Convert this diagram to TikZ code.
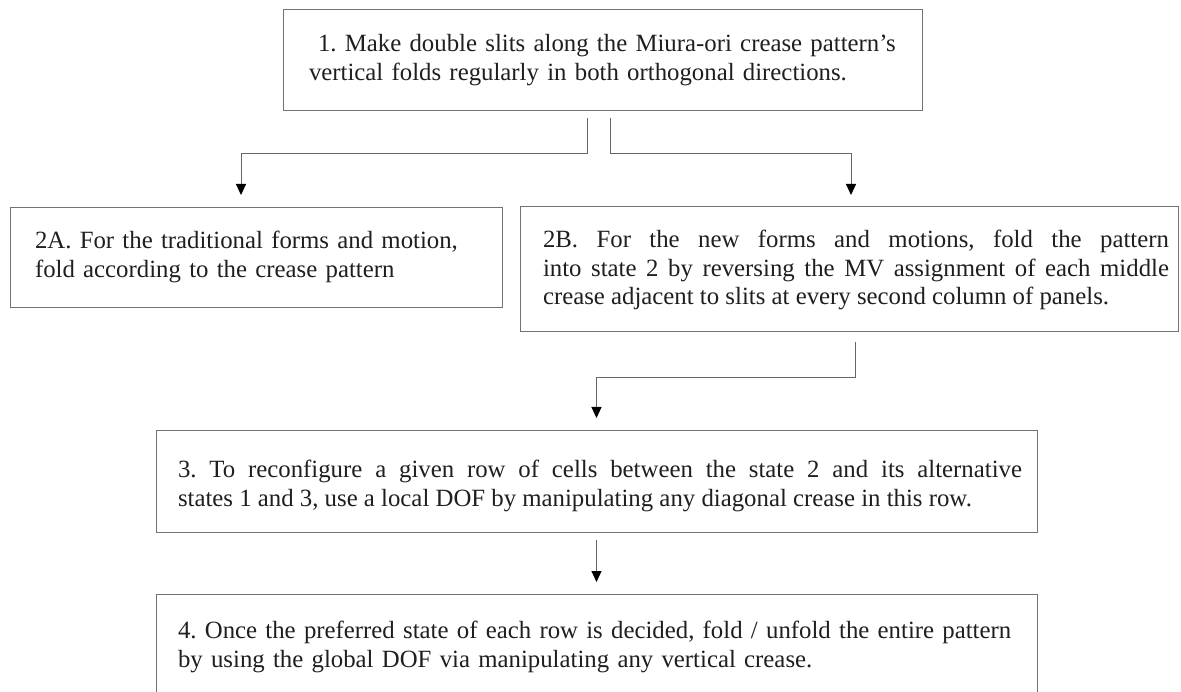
\documentclass[tikz,border=0pt]{standalone}
\usepackage{fontspec}
\setmainfont{Liberation Serif}
\usetikzlibrary{arrows.meta,calc}
\begin{document}
\frenchspacing
\begin{tikzpicture}[x=1pt,y=-1pt,
  box/.style={draw=black!55, line width=1pt, rectangle, anchor=north west, inner sep=0pt, outer sep=0pt},
  txt/.style={anchor=west, inner sep=0pt, outer sep=0pt, font=\fontsize{24.8}{28.5}\selectfont\frenchspacing, text=black!88},
  conn/.style={draw=black!60, line width=1pt},
  arr/.style={conn, -{Triangle[width=10pt,length=11pt,color=black]}}
]
\useasboundingbox (0,0) rectangle (1181,692);
\fill[white] (0,0) rectangle (1181,692);

% boxes
\node[box, minimum width=639pt, minimum height=101pt] (b1) at (283,10) {};
\node[box, minimum width=492pt, minimum height=100pt] (b2a) at (10,208) {};
\node[box, minimum width=658pt, minimum height=125pt] (b2b) at (520,207) {};
\node[box, minimum width=881pt, minimum height=101pt] (b3) at (156,431) {};
\node[box, minimum width=881pt, minimum height=110pt] (b4) at (156,594) {};

% texts
\node[txt, text width=620pt, align=left] (t1) at (309,60)
  {\hspace*{9pt}1. Make double slits along the Miura-ori crease pattern’s\\vertical folds regularly in both orthogonal directions.};
\node[txt, text width=460pt, align=left] (t2a) at (35,257)
  {2A. For the traditional forms and motion,\\fold according to the crease pattern};
\node[txt, text width=626pt, align=justify] (t2b) at (543,270)
  {2B. For the new forms and motions, fold the pattern\linebreak into state 2 by reversing the MV assignment of each middle\linebreak crease adjacent to slits at every second column of panels.};
\node[txt, text width=844pt, align=justify] (t3) at (178,486)
  {3. To reconfigure a given row of cells between the state 2 and its alternative\linebreak states 1 and 3, use a local DOF by manipulating any diagonal crease in this row.};
\node[txt, text width=850pt, align=left] (t4) at (178,647)
  {4. Once the preferred state of each row is decided, fold / unfold the entire pattern\\by using the global DOF via manipulating any vertical crease.};

% connectors
\coordinate (c1) at ($(b1.south west)+(304,7)$);
\coordinate (c2) at ($(b1.south west)+(327,7)$);
\coordinate (c3) at ($(b2b.south)+(6,10)$);
\draw[arr, shorten >=13pt] (c1) -- ++(0,36) -| ($(b2a.north west)+(231,0)$);
\draw[arr, shorten >=12pt] (c2) -- ++(0,36) -| ([xshift=2pt]b2b.north);
\draw[arr, shorten >=13pt] (c3) -- ++(0,36) -| (b3.north);
\draw[arr, shorten <=8pt, shorten >=12pt] (b3.south) -- (b4.north);
\end{tikzpicture}
\end{document}
